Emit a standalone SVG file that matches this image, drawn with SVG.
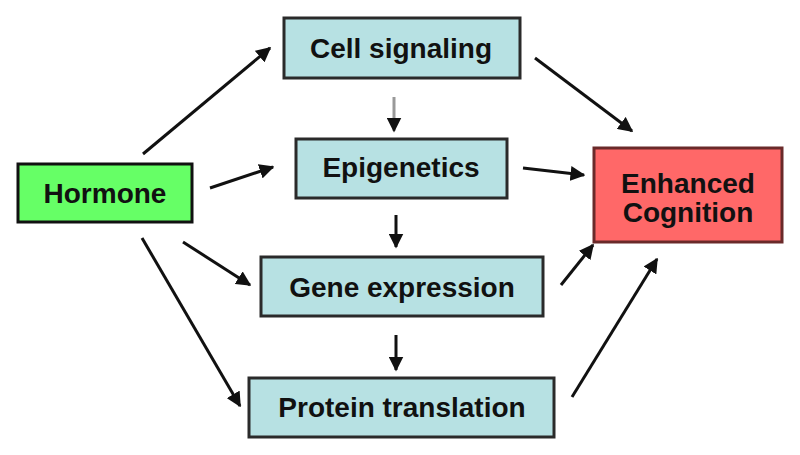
<svg xmlns="http://www.w3.org/2000/svg" width="800" height="455" viewBox="0 0 800 455">
<defs>
<style>
.box{stroke:#2a2a2a;stroke-width:3}
.blue{fill:#b7e1e3}
.green{fill:#66ff66;stroke:#111}
.red{fill:#ff6868;stroke:#6a2a2a}
.t{font-family:"Liberation Sans",Arial,sans-serif;font-weight:bold;font-size:28px;fill:#111;text-anchor:middle}
.c{stroke:#111;stroke-width:3;fill:none;marker-end:url(#ah)}
</style>
<marker id="ah" viewBox="0 0 10 10" refX="9" refY="5" markerWidth="5" markerHeight="5" orient="auto" markerUnits="strokeWidth">
<path d="M0,0 L10,5 L0,10 Z" fill="#111"/>
</marker>
</defs>
<rect width="800" height="455" fill="#fff"/>
<g id="connectors">
<line class="c" x1="143" y1="154" x2="270" y2="48"/>
<line class="c" x1="210" y1="188" x2="273" y2="167"/>
<line class="c" x1="183" y1="242" x2="250" y2="285"/>
<line class="c" x1="142" y1="238" x2="240" y2="406"/>
<line class="c" x1="535" y1="58" x2="632" y2="131"/>
<line class="c" x1="523" y1="168" x2="584" y2="175"/>
<line class="c" x1="561" y1="285" x2="593" y2="245"/>
<line class="c" x1="572" y1="397" x2="657" y2="259"/>
<line class="c" x1="394" y1="97" x2="394" y2="131" style="stroke:#999"/>
<line class="c" x1="396" y1="215" x2="396" y2="247"/>
<line class="c" x1="396" y1="335" x2="396" y2="370"/>
</g>
<g id="hormone">
<rect class="box green" x="18" y="164" width="174" height="58"/>
<text class="t" x="105" y="203">Hormone</text>
</g>
<g id="cell-signaling">
<rect class="box blue" x="284" y="18" width="236" height="60"/>
<text class="t" x="401" y="58">Cell signaling</text>
</g>
<g id="epigenetics">
<rect class="box blue" x="296" y="139" width="211" height="59"/>
<text class="t" x="401" y="177">Epigenetics</text>
</g>
<g id="gene-expression">
<rect class="box blue" x="261" y="257" width="282" height="59"/>
<text class="t" x="402" y="297">Gene expression</text>
</g>
<g id="protein-translation">
<rect class="box blue" x="249" y="378" width="305" height="59"/>
<text class="t" x="402" y="417">Protein translation</text>
</g>
<g id="enhanced-cognition">
<rect class="box red" x="594" y="148" width="188" height="94"/>
<text class="t" x="688" y="193">Enhanced</text>
<text class="t" x="688" y="222">Cognition</text>
</g>
</svg>
